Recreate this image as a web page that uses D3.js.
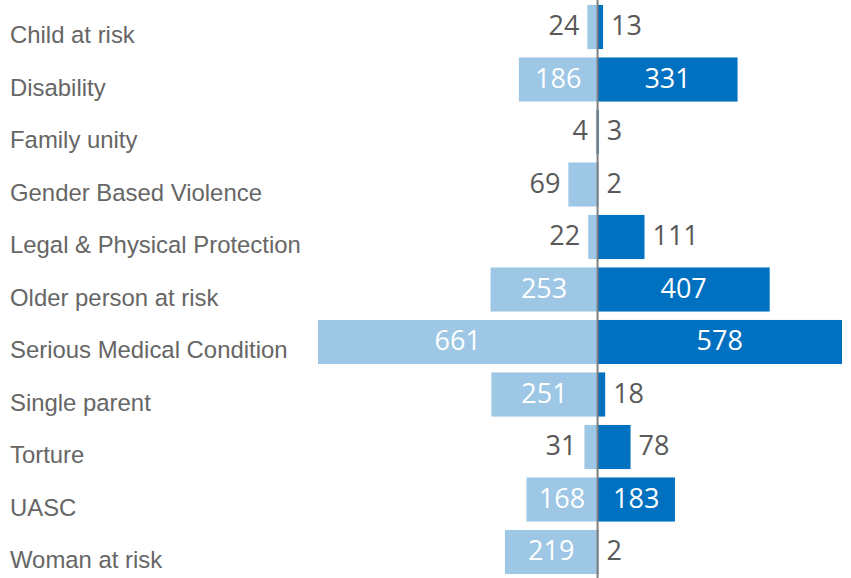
<!DOCTYPE html>
<html>
<head>
<meta charset="utf-8">
<script src="https://cdn.jsdelivr.net/npm/d3@7"></script>
<style>
  body { margin: 0; background: #fff; }
  svg { display: block; }
</style>
</head>
<body>
<div id="chart"></div>
<script>
// data
const categories = ["Child at risk", "Disability", "Family unity", "Gender Based Violence",
  "Legal & Physical Protection", "Older person at risk", "Serious Medical Condition",
  "Single parent", "Torture", "UASC", "Woman at risk"];
const leftValues  = [24, 186, 4, 69, 22, 253, 661, 251, 31, 168, 219];
const rightValues = [13, 331, 3, 2, 111, 407, 578, 18, 78, 183, 2];

const width = 851, height = 578;
const LIGHT = "#9dc7e4", DARK = "#0070c0";

const svg = d3.select("#chart").append("svg")
  .attr("width", width)
  .attr("height", height);

const x = d3.scaleLinear()
  .domain([-d3.max(leftValues), d3.max(rightValues)])
  .range([318, 842]);

const y = d3.scaleBand()
  .domain(categories)
  .range([0.75, 578.25])
  .paddingInner(0.16)
  .paddingOuter(0.08);

const rows = categories.map((c, i) => ({ cat: c, left: leftValues[i], right: rightValues[i] }));

// category labels
svg.append("g").selectAll("text")
  .data(rows).join("text")
  .attr("x", 10)
  .attr("y", d => y(d.cat) + y.bandwidth() / 2 + 16)
  .attr("font-family", "'Liberation Sans', Arial, sans-serif")
  .attr("font-size", 23.9)
  .attr("fill", "#666")
  .text(d => d.cat);

// bars
svg.append("g").selectAll("rect")
  .data(rows).join("rect")
  .attr("x", d => x(-d.left))
  .attr("y", d => y(d.cat))
  .attr("width", d => x(0) - x(-d.left))
  .attr("height", y.bandwidth())
  .attr("fill", LIGHT);

svg.append("g").selectAll("rect")
  .data(rows).join("rect")
  .attr("x", x(0))
  .attr("y", d => y(d.cat))
  .attr("width", d => x(d.right) - x(0))
  .attr("height", y.bandwidth())
  .attr("fill", DARK);

// centre axis
svg.append("line")
  .attr("x1", x(0)).attr("x2", x(0))
  .attr("y1", 0).attr("y2", height)
  .attr("stroke", "#7f7f7f")
  .attr("stroke-width", 2);

// value labels
const MIN_IN = 60;
const valFont = "'Open Sans', 'Noto Sans', sans-serif";

svg.append("g").selectAll("text")
  .data(rows).join("text")
  .each(function(d) {
    const w = x(0) - x(-d.left);
    const inside = w >= MIN_IN;
    d3.select(this)
      .attr("x", inside ? x(-d.left) + w / 2 : x(-d.left) - 8)
      .attr("text-anchor", inside ? "middle" : "end")
      .attr("fill", inside ? "#fff" : "#595959");
  })
  .attr("y", d => y(d.cat) + y.bandwidth() / 2 + 8)
  .attr("font-family", valFont)
  .attr("font-size", 27)
  .text(d => d.left);

svg.append("g").selectAll("text")
  .data(rows).join("text")
  .each(function(d) {
    const w = x(d.right) - x(0);
    const inside = w >= MIN_IN;
    d3.select(this)
      .attr("x", inside ? x(0) + w / 2 : x(d.right) + 8)
      .attr("text-anchor", inside ? "middle" : "start")
      .attr("fill", inside ? "#fff" : "#595959");
  })
  .attr("y", d => y(d.cat) + y.bandwidth() / 2 + 8)
  .attr("font-family", valFont)
  .attr("font-size", 27)
  .text(d => d.right);
</script>
</body>
</html>
